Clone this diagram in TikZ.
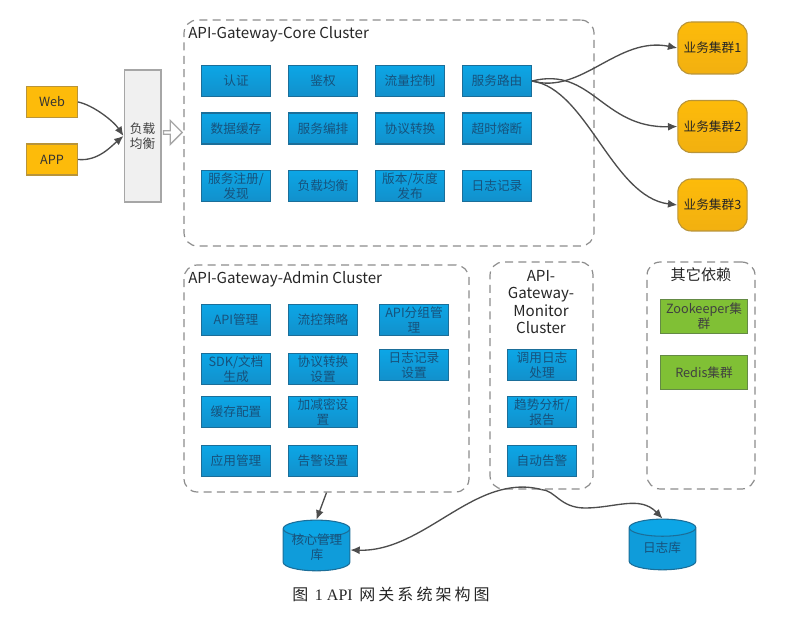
\documentclass[tikz,border=0pt]{standalone}
\usepackage{fontspec}
\setmainfont{Noto Sans CJK SC}
\newfontfamily\capserif{Liberation Serif}
\usetikzlibrary{arrows.meta}
\usetikzlibrary{shapes.geometric}
\usetikzlibrary{shapes.arrows}
\definecolor{boxblue}{HTML}{0F9CDA}
\definecolor{boxtop}{HTML}{0CA6E6}
\definecolor{boxlow}{HTML}{1290CB}
\definecolor{boxline}{HTML}{1B6E99}
\definecolor{boxtext}{HTML}{17527C}
\definecolor{gold}{HTML}{FDBB0A}
\definecolor{goldlow}{HTML}{F2B010}
\definecolor{goldline}{HTML}{B8943A}
\definecolor{leaf}{HTML}{80C035}
\definecolor{leafline}{HTML}{648A45}
\definecolor{wire}{HTML}{4D4D4D}
\definecolor{dashline}{HTML}{8C8C8C}
\tikzstyle{graph}=[x=0.75pt, y=-0.75pt, font=\fontsize{9.5}{11.5}\selectfont, align=center]
\tikzstyle{svc}=[rectangle, draw=boxline, line width=0.8pt, top color=boxtop, bottom color=boxlow, text=boxtext, minimum width=51.75pt, minimum height=23.25pt, inner sep=0pt]
\tikzstyle{entry}=[rectangle, draw=goldline, line width=0.8pt, fill=gold, text=black!80, minimum width=38.25pt, minimum height=23.25pt, inner sep=0pt]
\tikzstyle{biz}=[rectangle, rounded corners=10pt, draw=goldline, line width=0.8pt, top color=gold, bottom color=goldlow, text=black!85, minimum width=52pt, minimum height=39pt, inner sep=0pt]
\tikzstyle{dep}=[rectangle, draw=leafline, line width=0.8pt, fill=leaf, text=black!75, minimum width=65.25pt, minimum height=25.5pt, inner sep=0pt]
\tikzstyle{lb}=[rectangle, draw=black!35, line width=1pt, fill=black!6, text=black!75, minimum width=27.5pt, minimum height=99pt, inner sep=0pt]
\tikzstyle{cluster}=[rectangle, rounded corners=10pt, draw=dashline, line width=0.9pt, dash pattern=on 6pt off 4pt, minimum height=20pt, inner sep=0pt]
\tikzstyle{title}=[font=\fontsize{11.35}{13.2}\selectfont, text=black!85, inner sep=0pt]
\tikzstyle{store}=[cylinder, shape border rotate=90, aspect=0.45, draw=boxline, line width=0.8pt, cylinder uses custom fill, cylinder body fill=boxblue, cylinder end fill=boxtop, minimum width=50pt, minimum height=38pt, inner sep=0pt]
\tikzstyle{storeT}=[text=boxtext, inner sep=0pt]
\tikzstyle{edge}=[line width=1pt, draw=wire, -{Latex[length=7pt,width=6pt]}]
\tikzstyle{hollow}=[single arrow, draw=black!35, line width=1pt, fill=white, minimum width=18pt, single arrow head extend=3pt, minimum height=14pt, inner sep=0pt]
\begin{document}
\begin{tikzpicture}[graph]
	\useasboundingbox (0,0) rectangle (787,623);
	\draw (389,133) node[cluster, minimum width=307.5pt, minimum height=169.5pt] (core) {};
	\draw (326.5,378.5) node[cluster, minimum width=213.75pt, minimum height=170.25pt] (admin) {};
	\draw (541.5,375.5) node[cluster, minimum width=77.25pt, minimum height=170.25pt] (mon) {};
	\draw (701,375.5) node[cluster, minimum width=81pt, minimum height=170.25pt] (other) {};
	\draw (188,34.5) node[title, anchor=west] (coreT) {API-Gateway-Core Cluster};
	\draw (188,279.5) node[title, anchor=west] (adminT) {API-Gateway-Admin Cluster};
	\draw (541,302) node[title] (monT) {API-\\Gateway-\\Monitor\\Cluster};
	\draw (701,275) node[title] (otherT) {其它依赖};
	%
	\draw (52,102) node[entry] (web) {Web};
	\draw (52,159.5) node[entry] (app) {APP};
	\draw (142.5,136) node[lb] (bal) {负载\\均衡};
	\draw (172,132.5) node[hollow] (pass) {};
	%
	\draw (236,81) node[svc] (c1) {认证};
	\draw (323,81) node[svc] (c2) {鉴权};
	\draw (410,81) node[svc] (c3) {流量控制};
	\draw (497,81) node[svc] (c4) {服务路由};
	\draw (236,128.5) node[svc] (c5) {数据缓存};
	\draw (323,128.5) node[svc] (c6) {服务编排};
	\draw (410,128.5) node[svc] (c7) {协议转换};
	\draw (497,128.5) node[svc] (c8) {超时熔断};
	\draw (236,186) node[svc] (c9) {服务注册/\\发现};
	\draw (323,186) node[svc] (c10) {负载均衡};
	\draw (410,186) node[svc] (c11) {版本/灰度\\发布};
	\draw (497,186) node[svc] (c12) {日志记录};
	%
	\draw (712.5,48) node[biz] (b1) {业务集群1};
	\draw (712.5,126.5) node[biz] (b2) {业务集群2};
	\draw (712.5,205) node[biz] (b3) {业务集群3};
	%
	\draw (236,320) node[svc] (a1) {API管理};
	\draw (323,320) node[svc] (a2) {流控策略};
	\draw (414,320) node[svc] (a3) {API分组管\\理};
	\draw (236,369) node[svc] (a4) {SDK/文档\\生成};
	\draw (323,369) node[svc] (a5) {协议转换\\设置};
	\draw (414,365) node[svc] (a6) {日志记录\\设置};
	\draw (236,412) node[svc] (a7) {缓存配置};
	\draw (323,412) node[svc] (a8) {加减密设\\置};
	\draw (236,461) node[svc] (a9) {应用管理};
	\draw (323,461) node[svc] (a10) {告警设置};
	%
	\draw (542,365) node[svc] (m1) {调用日志\\处理};
	\draw (542,412) node[svc] (m2) {趋势分析/\\报告};
	\draw (542,461) node[svc] (m3) {自动告警};
	%
	\draw (704,316.5) node[dep] (d1) {Zookeeper集\\群};
	\draw (704,372.5) node[dep] (d2) {Redis集群};
	%
	\draw (316.5,550) node[store] (coredb) {\phantom{日志库}};
	\draw (662.5,549) node[store] (logdb) {\phantom{日志库}};
	\draw (317,547) node[storeT] (coredbT) {核心管理\\库};
	\draw (662,548) node[storeT] (logdbT) {日志库};
	\draw (391,594) node[inner sep=0pt, font=\fontsize{12}{14}\selectfont, text=black!85] (cap) {\addfontfeature{LetterSpace=19}图 {\capserif 1 API} 网关系统架构图};
	%
	\draw[edge] (web.east) .. controls +(15,3) and +(-10,-15) .. (bal.west);
	\draw[edge] (app.east) .. controls +(20,2) and +(-12,10) .. (bal.west);
	\draw[edge] (c4.east) .. controls +(50,14) and +(-60,-12) .. (b1.west);
	\draw[edge] (c4.east) .. controls +(60,-15) and +(-75,2) .. (b2.west);
	\draw[edge] (c4.east) .. controls +(55,8) and +(-65,-8) .. (b3.west);
	\draw[edge] (admin.south) -- (coredb.north);
	\draw[edge] (mon.south) .. controls (475,472) and (425,552) .. (coredb.east);
	\coordinate (dip) at (585,508);
	\draw[edge] (mon.south) .. controls (555,490) and (560,508) .. (dip) .. controls (615,508) and (640,495) .. (logdb.north);
\end{tikzpicture}
\end{document}
